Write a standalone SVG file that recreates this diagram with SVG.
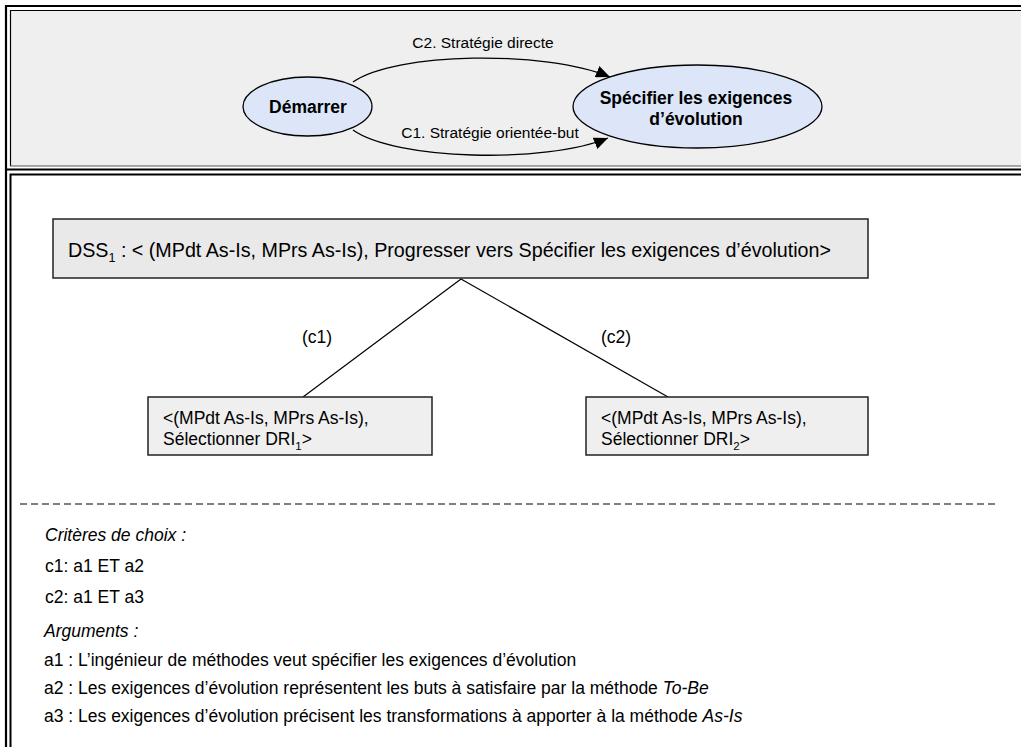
<svg xmlns="http://www.w3.org/2000/svg" width="1021" height="747" viewBox="0 0 1021 747">
  <style>
    .frame { fill: none; stroke: #000; }
    .goal { fill: #dce6f8; stroke: #000; stroke-width: 1.3; }
    .goal-text { font-family: "Liberation Sans", Arial, sans-serif; font-weight: bold; font-size: 17.5px; fill: #000; text-anchor: middle; }
    .strat { font-family: "Liberation Sans", Arial, sans-serif; font-size: 15.5px; fill: #000; text-anchor: middle; }
    .edge { fill: none; stroke: #000; stroke-width: 1.3; }
    .box { fill: #efefef; stroke: #222; stroke-width: 1.5; }
    .dss { fill: #e9e9e9; stroke: #222; stroke-width: 1.5; }
    .txt { font-family: "Liberation Sans", Arial, sans-serif; font-size: 17.5px; fill: #000; }
    .big { font-size: 19.7px; }
    .it { font-style: italic; }
    .branch { stroke: #000; stroke-width: 1.2; fill: none; }
  </style>
  <defs>
    <marker id="arrow" markerUnits="userSpaceOnUse" markerWidth="14" markerHeight="12" viewBox="0 0 14 12" refX="14" refY="6" orient="auto">
      <path d="M0,0 L14,6 L0,12 z" fill="#000"/>
    </marker>
  </defs>

  <rect width="1021" height="747" fill="#fff"/>

  <!-- table borders -->
  <g id="frames">
    <rect x="10" y="10" width="1011" height="156" fill="#efefef"/>
    <path class="frame" stroke-width="2.2" d="M6,747 V6 H1021"/>
    <path class="frame" stroke-width="1.2" d="M10.5,166 V10.5 H1021"/>
    <line x1="10" y1="166" x2="1021" y2="166" stroke="#555" stroke-width="1"/>
    <line x1="6" y1="169.5" x2="1021" y2="169.5" stroke="#000" stroke-width="2.2"/>
    <path class="frame" stroke-width="2" d="M10.5,747 V174.5 H1021"/>
  </g>

  <!-- process map -->
  <g id="node-demarrer">
    <ellipse class="goal" cx="307.5" cy="106.5" rx="64.5" ry="29.5"/>
    <text class="goal-text" x="308" y="113">Démarrer</text>
  </g>
  <g id="node-specifier">
    <ellipse class="goal" cx="697.5" cy="106.5" rx="124.5" ry="41.5"/>
    <text class="goal-text" x="696" y="104">Spécifier les exigences</text>
    <text class="goal-text" x="696" y="125">d’évolution</text>
  </g>
  <g id="strategies">
    <path class="edge" d="M353,82 C395,52 545,50 610,77" marker-end="url(#arrow)"/>
    <path class="edge" d="M353,130 C395,160 545,164 608,138" marker-end="url(#arrow)"/>
    <text class="strat" x="483" y="48">C2. Stratégie directe</text>
    <text class="strat" x="490" y="138">C1. Stratégie orientée-but</text>
  </g>

  <!-- decision tree -->
  <g id="node-dss">
    <rect class="dss" x="53" y="219" width="815" height="59"/>
    <text class="txt big" x="68" y="257">DSS<tspan font-size="12.5" dy="5">1</tspan><tspan dy="-5"> : &lt; (MPdt As-Is, MPrs As-Is), Progresser vers Spécifier les exigences d’évolution&gt;</tspan></text>
  </g>
  <g id="branches">
    <line class="branch" x1="461" y1="279" x2="303" y2="397"/>
    <line class="branch" x1="461" y1="279" x2="668" y2="397"/>
    <text class="txt" x="302" y="343">(c1)</text>
    <text class="txt" x="601" y="343">(c2)</text>
  </g>
  <g id="node-dri1">
    <rect class="box" x="148" y="397" width="284" height="58"/>
    <text class="txt" x="163" y="424">&lt;(MPdt As-Is, MPrs As-Is),</text>
    <text class="txt" x="163" y="445">Sélectionner DRI<tspan font-size="11.5" dy="5">1</tspan><tspan dy="-5">&gt;</tspan></text>
  </g>
  <g id="node-dri2">
    <rect class="box" x="586" y="397" width="282" height="58"/>
    <text class="txt" x="601" y="424">&lt;(MPdt As-Is, MPrs As-Is),</text>
    <text class="txt" x="601" y="445">Sélectionner DRI<tspan font-size="11.5" dy="5">2</tspan><tspan dy="-5">&gt;</tspan></text>
  </g>

  <line x1="20" y1="504" x2="996" y2="504" stroke="#000" stroke-width="1" stroke-dasharray="7 4"/>

  <!-- criteria and arguments -->
  <g id="notes">
    <text class="txt it" x="45" y="541">Critères de choix :</text>
    <text class="txt" x="45" y="572">c1: a1 ET a2</text>
    <text class="txt" x="45" y="603">c2: a1 ET a3</text>
    <text class="txt it" x="44" y="637">Arguments :</text>
    <text class="txt" x="44" y="666">a1 : L’ingénieur de méthodes veut spécifier les exigences d’évolution</text>
    <text class="txt" x="44" y="694">a2 : Les exigences d’évolution représentent les buts à satisfaire par la méthode <tspan class="it">To-Be</tspan></text>
    <text class="txt" x="44" y="722">a3 : Les exigences d’évolution précisent les transformations à apporter à la méthode <tspan class="it">As-Is</tspan></text>
  </g>
</svg>
